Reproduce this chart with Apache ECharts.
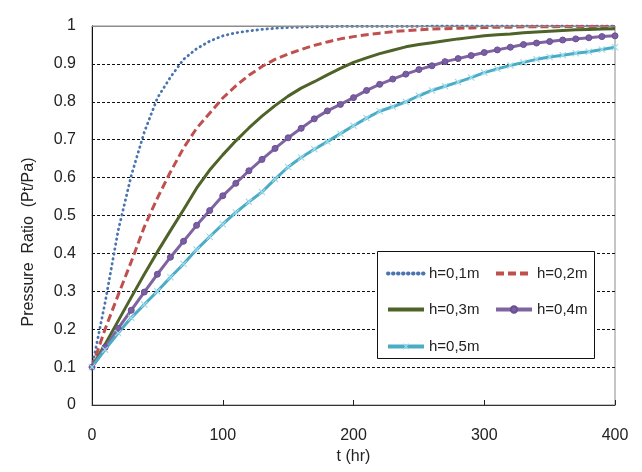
<!DOCTYPE html>
<html>
<head>
<meta charset="utf-8">
<script src="https://cdn.jsdelivr.net/npm/echarts@6/dist/echarts.min.js"></script>
<style>html,body{margin:0;padding:0;background:#fff;}#c{width:642px;height:472px;}</style>
</head>
<body>
<div id="c"></div>
<script>
var tValues = [0,10,20,30,40,50,60,70,80,90,100,110,120,130,140,150,160,170,180,190,200,210,220,230,240,250,260,270,280,290,300,310,320,330,340,350,360,370,380,390,400];
var h01 = [0.1,0.27,0.46,0.605,0.72,0.81,0.865,0.912,0.94,0.96,0.974,0.982,0.987,0.991,0.994,0.996,0.997,0.998,0.998,0.999,0.999,0.999,0.999,0.999,0.999,0.999,1,1,1,1,1,1,1,1,1,1,1,1,1,1,1];
var h02 = [0.1,0.2,0.29,0.378,0.47,0.546,0.615,0.678,0.73,0.77,0.81,0.842,0.87,0.893,0.912,0.926,0.938,0.949,0.958,0.966,0.972,0.977,0.981,0.985,0.988,0.99,0.992,0.993,0.994,0.995,0.996,0.997,0.997,0.998,0.998,0.998,0.999,0.999,0.999,0.999,0.999];
var h03 = [0.1,0.16,0.222,0.284,0.345,0.404,0.46,0.515,0.572,0.62,0.66,0.697,0.731,0.762,0.79,0.815,0.836,0.853,0.871,0.888,0.904,0.916,0.927,0.936,0.945,0.951,0.956,0.961,0.966,0.97,0.974,0.977,0.979,0.982,0.984,0.986,0.988,0.99,0.991,0.992,0.993];
var h04 = [0.1,0.152,0.202,0.25,0.298,0.345,0.39,0.432,0.474,0.513,0.552,0.585,0.618,0.648,0.677,0.705,0.73,0.755,0.776,0.793,0.811,0.83,0.846,0.86,0.873,0.885,0.895,0.906,0.914,0.922,0.93,0.937,0.944,0.951,0.955,0.959,0.963,0.966,0.969,0.972,0.974];
var h05 = [0.1,0.146,0.19,0.23,0.265,0.3,0.337,0.372,0.41,0.444,0.477,0.508,0.536,0.562,0.596,0.628,0.653,0.675,0.695,0.716,0.737,0.757,0.775,0.787,0.8,0.816,0.83,0.841,0.852,0.864,0.877,0.887,0.896,0.904,0.912,0.918,0.923,0.928,0.932,0.938,0.944];
var seriesNames = ['h=0,1m','h=0,2m','h=0,3m','h=0,4m','h=0,5m'];
var xTicks = [0,100,200,300,400];
var yTicks = [0,0.1,0.2,0.3,0.4,0.5,0.6,0.7,0.8,0.9,1];

function pairs(vals){ return tValues.map(function(t,i){ return [t, vals[i]]; }); }

var FONT = '"Liberation Sans", Arial, sans-serif';
var chart = echarts.init(document.getElementById('c'), null, {renderer:'canvas'});
var xCross = 'path://M0,1.2 L1.2,0 L5,3.8 L8.8,0 L10,1.2 L6.2,5 L10,8.8 L8.8,10 L5,6.2 L1.2,10 L0,8.8 L3.8,5 Z';

function legendAt(name, hideSymbol, left, top){
  var lg = {
    data:[name], left:left, top:top, padding:0, itemWidth:36, itemHeight:8, z:20,
    textStyle:{fontFamily:FONT, fontSize:15, color:'#222'},
    lineStyle:{width:4},
    selectedMode:false
  };
  if (hideSymbol) lg.itemStyle = {opacity:0};
  return lg;
}

chart.setOption({
  animation:false,
  backgroundColor:'#fff',
  grid:{left:92, right:27, top:26, bottom:67, show:true, borderColor:'#8c8c8c', borderWidth:1, backgroundColor:'#fff'},
  xAxis:[{
    type:'value', min:0, max:400, interval:100,
    name:'t (hr)', nameLocation:'middle', nameGap:40,
    nameTextStyle:{fontFamily:FONT, fontSize:16, color:'#222'},
    axisLine:{show:true, lineStyle:{color:'#333', width:1}},
    axisTick:{show:true, inside:true, length:5, lineStyle:{color:'#222'}},
    axisLabel:{margin:23, fontFamily:FONT, fontSize:16, color:'#222',
      formatter:function(v){ return xTicks.indexOf(v)>=0 ? String(v) : ''; }},
    splitLine:{show:false}
  },{
    type:'value', position:'top', min:0, max:400, interval:100, z:5,
    axisLine:{show:true, onZero:false, lineStyle:{color:'#8c8c8c', width:1}},
    axisTick:{show:false}, axisLabel:{show:false}, splitLine:{show:false}
  }],
  yAxis:{
    type:'value', min:0, max:1, interval:0.1,
    axisLine:{show:true, lineStyle:{color:'#111', width:1}},
    axisTick:{show:false},
    axisLabel:{margin:16, fontFamily:FONT, fontSize:16, color:'#222',
      formatter:function(v){ var r=Math.round(v*10)/10; return yTicks.indexOf(r)>=0 ? String(r) : ''; }},
    splitLine:{show:true, lineStyle:{color:'#111', width:1, type:[3,2]}}
  },
  legend:[
    legendAt(seriesNames[0], true, 386, 266),
    legendAt(seriesNames[1], true, 494, 266),
    legendAt(seriesNames[2], true, 386, 302),
    legendAt(seriesNames[3], false, 494, 302),
    legendAt(seriesNames[4], false, 386, 339)
  ],
  graphic:[
    {type:'rect', z:10, shape:{x:377.5, y:251.5, width:217, height:107},
     style:{fill:'#fff', stroke:'#111', lineWidth:1}},
    {type:'text', z:10, x:29, y:242, rotation:Math.PI/2,
     style:{text:'Pressure  Ratio  (Pt/Pa)', font:'16px '+FONT, fill:'#222', textAlign:'center', textVerticalAlign:'middle'}}
  ],
  series:[
    {name:seriesNames[0], type:'line', data:pairs(h01), symbol:'none', showSymbol:false, z:3,
     lineStyle:{color:'#4a74b0', width:2.8, type:[0.5,4.5], cap:'round'}, itemStyle:{color:'#4a74b0'}},
    {name:seriesNames[1], type:'line', data:pairs(h02), symbol:'none', showSymbol:false, z:3,
     lineStyle:{color:'#c0504d', width:3, type:[8,4]}, itemStyle:{color:'#c0504d'}},
    {name:seriesNames[2], type:'line', data:pairs(h03), symbol:'none', showSymbol:false, z:3,
     lineStyle:{color:'#4f6228', width:3}, itemStyle:{color:'#4f6228'}},
    {name:seriesNames[3], type:'line', data:pairs(h04), symbol:'circle', symbolSize:6, showSymbol:true, z:3,
     lineStyle:{color:'#8064a2', width:3}, itemStyle:{color:'#7a5ea3', borderColor:'#6a4f93', borderWidth:1}},
    {name:seriesNames[4], type:'line', data:pairs(h05), symbol:xCross, symbolSize:7, showSymbol:true, z:3,
     lineStyle:{color:'#4bacc6', width:3}, itemStyle:{color:'#9fdbea'}}
  ]
});
</script>
</body>
</html>
